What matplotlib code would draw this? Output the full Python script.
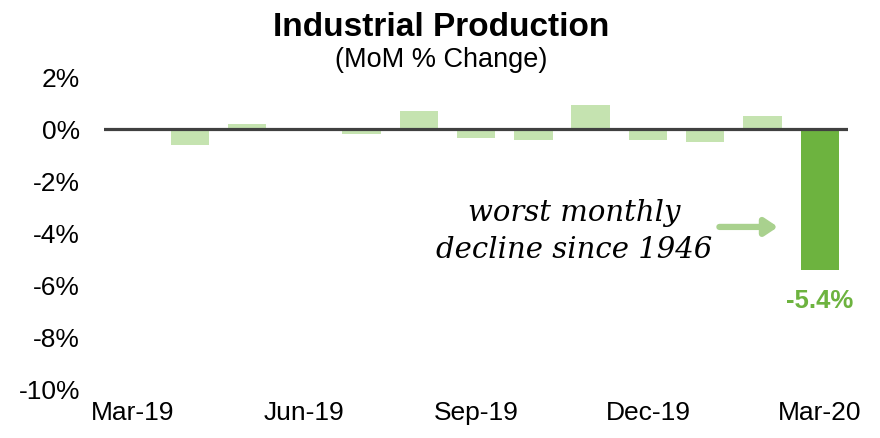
import matplotlib.pyplot as plt

months = ['Mar-19', 'Apr-19', 'May-19', 'Jun-19', 'Jul-19', 'Aug-19', 'Sep-19',
          'Oct-19', 'Nov-19', 'Dec-19', 'Jan-20', 'Feb-20', 'Mar-20']
mom_change = [0.05, -0.6, 0.2, 0.0, -0.2, 0.7, -0.35, -0.4, 0.92, -0.4, -0.5, 0.5, -5.4]
tick_labels = ['Mar-19', 'Jun-19', 'Sep-19', 'Dec-19', 'Mar-20']
y_ticks = [2, 0, -2, -4, -6, -8, -10]

light = '#c5e3b0'
dark = '#6db33f'

plt.rcParams['font.family'] = ['Liberation Sans', 'DejaVu Sans']

fig = plt.figure(figsize=(8.8, 4.38), dpi=100)
ax = fig.add_axes([0.118, 0.110, 0.846, 0.714])

x = list(range(len(months)))
colors = [light] * (len(months) - 1) + [dark]
ax.bar(x, mom_change, width=0.67, color=colors, zorder=2)
ax.axhline(0, color='#404040', linewidth=2.3, zorder=3)

ax.set_xlim(-0.5, len(months) - 0.5)
ax.set_ylim(-10, 2)
ax.set_yticks(y_ticks)
ax.set_yticklabels([f'{v}%' for v in y_ticks])
ax.set_xticks([months.index(m) for m in tick_labels])
ax.set_xticklabels(tick_labels)
ax.tick_params(axis='y', length=0, pad=17, labelsize=19)
ax.tick_params(axis='x', length=0, pad=8, labelsize=19)
for s in ax.spines.values():
    s.set_visible(False)

# last bar label
ax.text(x[-1], mom_change[-1] - 0.72, f'{mom_change[-1]}%', ha='center', va='top',
        color=dark, fontsize=18.5, fontweight='bold')

# annotation
ax.text(7.72, -3.22, 'worst monthly', ha='center', va='center', fontsize=21,
        style='italic', family='DejaVu Serif')
ax.text(7.72, -4.62, 'decline since 1946', ha='center', va='center', fontsize=21,
        style='italic', family='DejaVu Serif')
ax.annotate('', xy=(11.32, -3.75), xytext=(10.2, -3.75),
            arrowprops=dict(arrowstyle='-|>,head_length=0.75,head_width=0.5',
                            color='#a9d18e', lw=4.5, capstyle='round'))

fig.text(0.501, 0.938, 'Industrial Production', ha='center', va='center',
         fontsize=24, fontweight='bold')
fig.text(0.501, 0.863, '(MoM % Change)', ha='center', va='center', fontsize=19.5)

fig.savefig('out.png', dpi=100)
